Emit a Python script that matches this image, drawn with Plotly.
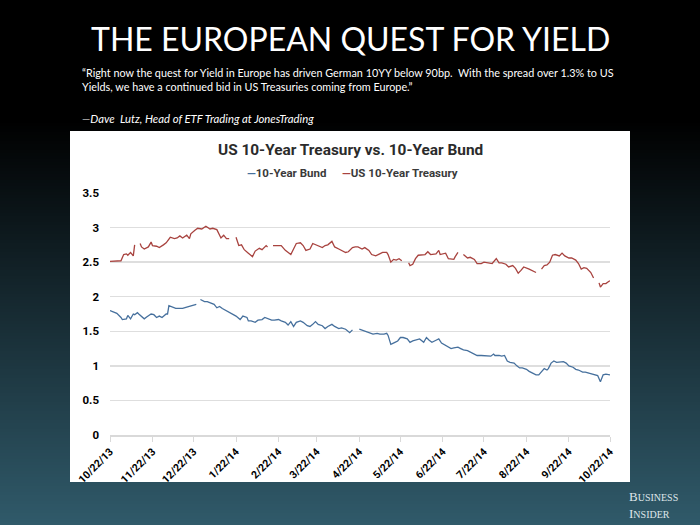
import plotly.graph_objects as go

# ---------------- data ----------------
treasury_dates = [
    "2013-10-22", "2013-10-29", "2013-10-30", "2013-11-01", "2013-11-03", "2013-11-04", "2013-11-06",
    "2013-11-08", "2013-11-09", "2013-11-11", "2013-11-13", "2013-11-14", "2013-11-16", "2013-11-19",
    "2013-11-21", "2013-11-22", "2013-11-25", "2013-11-27", "2013-11-30", "2013-12-02", "2013-12-05",
    "2013-12-08", "2013-12-10", "2013-12-12", "2013-12-14", "2013-12-17", "2013-12-19", "2013-12-20",
    "2013-12-23", "2013-12-25", "2013-12-28", "2013-12-30", "2013-12-31", "2014-01-03", "2014-01-05",
    "2014-01-08", "2014-01-09", "2014-01-11", "2014-01-13", "2014-01-15", "2014-01-17", "2014-01-20",
    "2014-01-22", "2014-01-24", "2014-01-26", "2014-01-28", "2014-01-31", "2014-02-03", "2014-02-05",
    "2014-02-08", "2014-02-10", "2014-02-13", "2014-02-14", "2014-02-17", "2014-02-18", "2014-02-22",
    "2014-02-24", "2014-02-27", "2014-03-01", "2014-03-03", "2014-03-05", "2014-03-07", "2014-03-10",
    "2014-03-12", "2014-03-14", "2014-03-17", "2014-03-19", "2014-03-21", "2014-03-24", "2014-03-26",
    "2014-03-28", "2014-03-30", "2014-04-02", "2014-04-04", "2014-04-07", "2014-04-09", "2014-04-12",
    "2014-04-14", "2014-04-17", "2014-04-19", "2014-04-21", "2014-04-24", "2014-04-26", "2014-04-29",
    "2014-05-01", "2014-05-04", "2014-05-06", "2014-05-09", "2014-05-12", "2014-05-13", "2014-05-15",
    "2014-05-17", "2014-05-19", "2014-05-21", "2014-05-23", "2014-05-26", "2014-05-28", "2014-05-29",
    "2014-05-31", "2014-06-02", "2014-06-04", "2014-06-07", "2014-06-09", "2014-06-11", "2014-06-13",
    "2014-06-17", "2014-06-19", "2014-06-20", "2014-06-23", "2014-06-24", "2014-06-26", "2014-06-30",
    "2014-07-01", "2014-07-03", "2014-07-04", "2014-07-07", "2014-07-10", "2014-07-12", "2014-07-15",
    "2014-07-17", "2014-07-20", "2014-07-22", "2014-07-25", "2014-07-28", "2014-07-31", "2014-08-02",
    "2014-08-04", "2014-08-07", "2014-08-09", "2014-08-12", "2014-08-14", "2014-08-16", "2014-08-18",
    "2014-08-20", "2014-08-24", "2014-08-26", "2014-08-29", "2014-09-01", "2014-09-02", "2014-09-04",
    "2014-09-06", "2014-09-08", "2014-09-10", "2014-09-12", "2014-09-15", "2014-09-17", "2014-09-19",
    "2014-09-22", "2014-09-24", "2014-09-27", "2014-09-29", "2014-10-01", "2014-10-03", "2014-10-05",
    "2014-10-08", "2014-10-10", "2014-10-13", "2014-10-14", "2014-10-15", "2014-10-17", "2014-10-19",
    "2014-10-21", "2014-10-22",
]
treasury_yield = [
    2.51, 2.51, 2.52, 2.61, 2.62, 2.60, 2.64,
    2.59, 2.75, None, 2.77, 2.72, 2.69, 2.72,
    2.79, 2.74, 2.73, 2.71, 2.75, 2.78, 2.86,
    2.84, 2.85, 2.88, 2.85, 2.89, 2.84, 2.91,
    2.96, 2.99, 2.98, 3.01, 3.02, 2.98, 2.99,
    2.97, 2.93, 2.85, 2.89, 2.84, 2.84, None,
    2.86, 2.74, 2.75, 2.68, 2.63, 2.58, 2.66,
    2.70, 2.68, 2.74, 2.72, None, 2.74, 2.74,
    2.74, 2.67, 2.64, 2.61, 2.69, 2.77, 2.78,
    2.74, 2.67, 2.69, 2.77, 2.75, 2.72, 2.71,
    2.74, 2.75, 2.80, 2.72, 2.69, 2.67, 2.64,
    2.65, 2.71, 2.72, 2.72, 2.69, 2.71, 2.67,
    2.61, 2.59, 2.61, 2.64, 2.64, 2.61, 2.50,
    2.54, 2.53, 2.55, 2.52, None, 2.49, 2.45,
    2.47, 2.55, 2.60, 2.60, 2.61, 2.65, 2.61,
    2.62, 2.67, 2.61, 2.62, 2.63, 2.55, 2.54,
    2.58, 2.64, None, 2.61, 2.56, 2.57, 2.54,
    2.48, 2.48, 2.50, 2.49, 2.48, 2.55, 2.49,
    2.49, 2.47, 2.43, 2.45, 2.41, 2.34, 2.38,
    2.43, 2.40, 2.38, 2.35, None, 2.40, 2.45,
    2.46, 2.50, 2.60, 2.61, 2.59, 2.63, 2.59,
    2.56, 2.56, 2.53, 2.48, 2.40, 2.42, 2.41,
    2.35, 2.27, None, 2.20, 2.14, 2.19, 2.19,
    2.22, 2.23,
]

bund_dates = [
    "2013-10-22", "2013-10-24", "2013-10-27", "2013-10-30", "2013-10-31", "2013-11-03", "2013-11-04",
    "2013-11-06", "2013-11-08", "2013-11-09", "2013-11-11", "2013-11-12", "2013-11-14", "2013-11-16",
    "2013-11-18", "2013-11-21", "2013-11-23", "2013-11-25", "2013-11-27", "2013-11-29", "2013-12-02",
    "2013-12-03", "2013-12-04", "2013-12-07", "2013-12-09", "2013-12-12", "2013-12-14", "2013-12-17",
    "2013-12-19", "2013-12-21", "2013-12-24", "2013-12-25", "2013-12-27", "2013-12-30", "2014-01-01",
    "2014-01-04", "2014-01-06", "2014-01-08", "2014-01-10", "2014-01-12", "2014-01-15", "2014-01-17",
    "2014-01-20", "2014-01-22", "2014-01-25", "2014-01-27", "2014-01-30", "2014-01-31", "2014-02-02",
    "2014-02-05", "2014-02-07", "2014-02-10", "2014-02-12", "2014-02-14", "2014-02-17", "2014-02-19",
    "2014-02-22", "2014-02-24", "2014-02-27", "2014-03-01", "2014-03-03", "2014-03-05", "2014-03-07",
    "2014-03-10", "2014-03-12", "2014-03-15", "2014-03-17", "2014-03-19", "2014-03-21", "2014-03-23",
    "2014-03-26", "2014-03-28", "2014-03-30", "2014-04-02", "2014-04-04", "2014-04-07", "2014-04-09",
    "2014-04-12", "2014-04-14", "2014-04-15", "2014-04-17", "2014-04-18", "2014-04-22", "2014-04-25",
    "2014-04-27", "2014-04-30", "2014-05-02", "2014-05-05", "2014-05-07", "2014-05-10", "2014-05-12",
    "2014-05-13", "2014-05-15", "2014-05-18", "2014-05-20", "2014-05-22", "2014-05-24", "2014-05-27",
    "2014-05-29", "2014-05-31", "2014-06-03", "2014-06-05", "2014-06-08", "2014-06-10", "2014-06-12",
    "2014-06-14", "2014-06-17", "2014-06-19", "2014-06-21", "2014-06-23", "2014-06-25", "2014-06-28",
    "2014-06-30", "2014-07-03", "2014-07-05", "2014-07-07", "2014-07-10", "2014-07-12", "2014-07-15",
    "2014-07-17", "2014-07-20", "2014-07-22", "2014-07-24", "2014-07-27", "2014-07-29", "2014-07-30",
    "2014-08-02", "2014-08-04", "2014-08-06", "2014-08-08", "2014-08-10", "2014-08-13", "2014-08-15",
    "2014-08-17", "2014-08-19", "2014-08-22", "2014-08-24", "2014-08-26", "2014-08-29", "2014-08-31",
    "2014-09-02", "2014-09-04", "2014-09-06", "2014-09-07", "2014-09-09", "2014-09-11", "2014-09-13",
    "2014-09-16", "2014-09-18", "2014-09-20", "2014-09-22", "2014-09-25", "2014-09-27", "2014-09-29",
    "2014-10-02", "2014-10-04", "2014-10-06", "2014-10-09", "2014-10-11", "2014-10-13", "2014-10-15",
    "2014-10-16", "2014-10-17", "2014-10-19", "2014-10-21", "2014-10-22",
]
bund_yield = [
    1.80, 1.78, 1.76, 1.70, 1.67, 1.68, 1.73,
    1.68, 1.75, 1.74, 1.77, 1.75, 1.71, 1.68,
    1.71, 1.75, 1.74, 1.70, 1.72, 1.70, 1.75,
    1.75, 1.87, 1.85, 1.83, 1.83, 1.83, 1.85,
    1.86, 1.87, 1.89, None, 1.96, 1.93, 1.93,
    1.91, 1.89, 1.84, 1.86, 1.83, 1.80, 1.77,
    1.75, 1.72, 1.67, 1.72, 1.70, 1.65, 1.65,
    1.63, 1.66, 1.67, 1.70, 1.68, 1.66, 1.66,
    1.67, 1.65, 1.63, 1.59, 1.64, 1.57, 1.63,
    1.65, 1.63, 1.58, 1.57, 1.60, 1.64, 1.60,
    1.58, 1.54, 1.57, 1.60, 1.57, 1.54, 1.55,
    1.53, 1.50, 1.48, 1.52, None, 1.53, 1.51,
    1.50, 1.48, 1.46, 1.47, 1.46, 1.46, 1.47,
    1.44, 1.31, 1.34, 1.36, 1.41, 1.41, 1.39,
    1.34, 1.36, 1.38, 1.39, 1.34, 1.41, 1.37,
    1.34, 1.37, 1.39, 1.33, 1.31, 1.29, 1.25,
    1.26, 1.27, 1.25, 1.23, 1.22, 1.20, 1.18,
    1.15, 1.15, 1.15, 1.14, 1.14, 1.17, 1.15,
    1.15, 1.14, 1.15, 1.07, 1.05, 1.04, 1.00,
    0.97, 0.97, 0.95, 0.92, 0.90, 0.87, 0.87,
    0.92, 0.96, 0.94, 0.96, 1.04, 1.07, 1.05,
    1.06, 1.06, 1.04, 1.00, 0.98, 0.95, 0.94,
    0.91, 0.91, 0.90, 0.89, 0.87, 0.86, 0.77,
    0.83, 0.87, 0.88, 0.88, 0.87,
]

x_tick_dates = ["2013-10-22", "2013-11-22", "2013-12-22", "2014-01-22", "2014-02-22", "2014-03-22",
                "2014-04-22", "2014-05-22", "2014-06-22", "2014-07-22", "2014-08-22", "2014-09-22",
                "2014-10-22"]
x_tick_labels = ["10/22/13", "11/22/13", "12/22/13", "1/22/14", "2/22/14", "3/22/14", "4/22/14",
                 "5/22/14", "6/22/14", "7/22/14", "8/22/14", "9/22/14", "10/22/14"]
y_tick_vals = [0, 0.5, 1, 1.5, 2, 2.5, 3, 3.5]
y_tick_labels = ["0", "0.5", "1", "1.5", "2", "2.5", "3", "3.5"]

assert len(treasury_dates) == len(treasury_yield)
assert len(bund_dates) == len(bund_yield)

# ---------------- layout helpers ----------------
W, H = 700, 525
L, R, T, B = 110, 90, 193, 90
PW, PH = W - L - R, H - T - B


def px(x):
    return (x - L) / PW


def py(y):
    return (H - B - y) / PH


BLUE = "#46709d"
RED = "#a8433f"
FONT = "Lato, Open Sans, sans-serif"
BOLD = "Roboto, Lato, sans-serif"

fig = go.Figure()
fig.add_trace(go.Scatter(x=bund_dates, y=bund_yield, mode="lines", name="10-Year Bund",
                         line=dict(color=BLUE, width=1.3), connectgaps=False, showlegend=False))
fig.add_trace(go.Scatter(x=treasury_dates, y=treasury_yield, mode="lines", name="US 10-Year Treasury",
                         line=dict(color=RED, width=1.3), connectgaps=False, showlegend=False))

# background gradient (black -> dark teal)
shapes = []
top_c = (0, 0, 0)
bot_c = (48, 90, 106)
g0, g1 = 120, 525
step = 3
yy = 0
while yy < H:
    t = min(max((yy + step / 2 - g0) / (g1 - g0), 0), 1)
    c = tuple(int(round(top_c[i] + (bot_c[i] - top_c[i]) * t)) for i in range(3))
    shapes.append(dict(type="rect", xref="paper", yref="paper", x0=px(0), x1=px(W),
                       y0=py(yy + step + 0.5), y1=py(yy), fillcolor="rgb(%d,%d,%d)" % c,
                       line=dict(width=0), layer="below"))
    yy += step
# white chart panel
shapes.append(dict(type="rect", xref="paper", yref="paper", x0=px(70), x1=px(630), y0=py(482), y1=py(131),
                   fillcolor="white", line=dict(width=0), layer="below"))

annotations = [
    dict(text="THE EUROPEAN QUEST FOR YIELD", x=px(350), y=py(38), xref="paper", yref="paper",
         xanchor="center", yanchor="middle", showarrow=False,
         font=dict(family=FONT, size=32, color="white")),
    dict(text="“Right now the quest for Yield in Europe has driven German 10YY below 90bp.  With the spread over 1.3% to US",
         x=px(80), y=py(72), xref="paper", yref="paper", xanchor="left", yanchor="middle", showarrow=False,
         font=dict(family=FONT, size=10.8, color="white")),
    dict(text="Yields, we have a continued bid in US Treasuries coming from Europe.”",
         x=px(80), y=py(87), xref="paper", yref="paper", xanchor="left", yanchor="middle", showarrow=False,
         font=dict(family=FONT, size=10.8, color="white")),
    dict(text="<i>—Dave  Lutz, Head of ETF Trading at JonesTrading</i>",
         x=px(80), y=py(118), xref="paper", yref="paper", xanchor="left", yanchor="middle", showarrow=False,
         font=dict(family=FONT, size=11.3, color="white")),
    dict(text="US 10-Year Treasury vs. 10-Year Bund", x=px(350), y=py(150), xref="paper", yref="paper",
         xanchor="center", yanchor="middle", showarrow=False,
         font=dict(family=BOLD, size=15.4, color="#2b2b2b", weight="bold")),
    dict(text='<span style="color:%s">—</span>10-Year Bund' % BLUE, x=px(245), y=py(173),
         xref="paper", yref="paper", xanchor="left", yanchor="middle", showarrow=False,
         font=dict(family=BOLD, size=11.5, color="#3a3a3a", weight="bold")),
    dict(text='<span style="color:%s">—</span>US 10-Year Treasury' % RED, x=px(340), y=py(173),
         xref="paper", yref="paper", xanchor="left", yanchor="middle", showarrow=False,
         font=dict(family=BOLD, size=11.5, color="#3a3a3a", weight="bold")),
    dict(text='B<span style="font-size:10px">USINESS</span><br>I<span style="font-size:10px">NSIDER</span>',
         x=px(653), y=py(505), xref="paper", yref="paper", xanchor="center", yanchor="middle", showarrow=False,
         align="left", font=dict(family="Liberation Serif, DejaVu Serif, serif", size=13, color="#dfe6ea")),
]

fig.update_layout(
    width=W, height=H,
    margin=dict(l=L, r=R, t=T, b=B, pad=0),
    paper_bgcolor="black",
    plot_bgcolor="white",
    shapes=shapes,
    annotations=annotations,
    showlegend=False,
    xaxis=dict(
        type="date", range=["2013-10-22", "2014-10-22"],
        tickmode="array", tickvals=x_tick_dates, ticktext=x_tick_labels,
        tickangle=-45, showgrid=False, zeroline=False,
        showline=True, linecolor="#d9d9d9", linewidth=1.5,
        ticks="outside", ticklen=5, tickcolor="#d9d9d9", tickwidth=1,
        tickfont=dict(family=BOLD, size=10.5, color="black", weight="bold"),
        fixedrange=True,
    ),
    yaxis=dict(
        range=[0, 3.5], tickmode="array", tickvals=y_tick_vals, ticktext=y_tick_labels,
        showgrid=True, gridcolor="#dedede", gridwidth=1.5, zeroline=False, showline=False,
        ticks="", ticklabelstandoff=10,
        tickfont=dict(family=BOLD, size=11.5, color="black", weight="bold"),
        fixedrange=True,
    ),
)

fig.write_html("out.html", config={"displayModeBar": False, "staticPlot": True},
               post_script="document.body.style.margin='0';document.body.style.overflow='hidden';")
